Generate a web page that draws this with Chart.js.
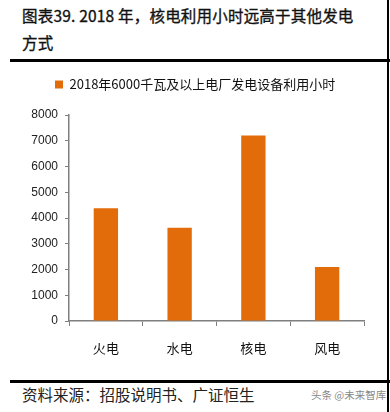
<!DOCTYPE html>
<html lang="zh">
<head>
    <meta charset="UTF-8">
    <title>2018年核电利用小时</title>
    <style>
        body {
            margin: 0;
            width: 390px;
            height: 412px;
            background: #fff;
            position: relative;
            overflow: hidden;
            font-family: "Noto Sans CJK SC", sans-serif;
        }
        .title {
            position: absolute;
            left: 22px;
            top: 2px;
            font-size: 15.5px;
            line-height: 27px;
            font-weight: normal;
            -webkit-text-stroke: 0.35px #111;
            letter-spacing: 0.2px;
            color: #111;
            white-space: nowrap;
        }
        .rule {
            position: absolute;
            left: 10px;
            width: 380px;
            height: 3px;
            background: #000;
        }
        .edge {
            position: absolute;
            left: 387px;
            top: 0;
            width: 2px;
            height: 412px;
            background: #000;
        }
        .source {
            position: absolute;
            left: 22px;
            top: 383px;
            font-size: 15.5px;
            color: #222;
            white-space: nowrap;
        }
        .mark {
            position: absolute;
            left: 311px;
            top: 387px;
            font-size: 10.5px;
            color: #888;
            white-space: nowrap;
        }
        #chart-box {
            position: absolute;
            left: 0;
            top: 53px;
            width: 380px;
            height: 317px;
        }
    </style>
    <script src="https://cdn.jsdelivr.net/npm/chart.js"></script>
</head>
<body>
    <div class="title">图表39. 2018 年，核电利用小时远高于其他发电<br>方式</div>
    <div class="rule" style="top:59px"></div>
    <div id="chart-box"><canvas id="hoursChart"></canvas></div>
    <div class="edge"></div>
    <div class="rule" style="top:380px"></div>
    <div class="source">资料来源：招股说明书、广证恒生</div>
    <div class="mark">头条 @未来智库</div>

    <script>
        // data
        const categories = ['火电', '水电', '核电', '风电'];
        const hours = [4380, 3625, 7200, 2100];
        const seriesName = '2018年6000千瓦及以上电厂发电设备利用小时';
        const yTicks = [0, 1000, 2000, 3000, 4000, 5000, 6000, 7000, 8000];

        const orange = '#E36C0A';
        const axisGray = '#7f7f7f';

        const ctx = document.getElementById('hoursChart').getContext('2d');
        new Chart(ctx, {
            type: 'bar',
            data: {
                labels: categories,
                datasets: [{
                    label: seriesName,
                    data: hours,
                    backgroundColor: orange,
                    borderWidth: 0,
                    categoryPercentage: 1,
                    barPercentage: 0.33
                }]
            },
            options: {
                responsive: true,
                maintainAspectRatio: false,
                animation: false,
                layout: { padding: { top: 0, right: 16, left: 30, bottom: 0 } },
                plugins: {
                    tooltip: { enabled: false },
                    // empty title box used as a spacer between legend and plot
                    title: {
                        display: true,
                        text: '',
                        weight: 500,
                        font: { size: 10, lineHeight: 1 },
                        padding: { top: 0, bottom: 4 }
                    },
                    legend: {
                        display: true,
                        position: 'top',
                        align: 'start',
                        labels: {
                            boxWidth: 8,
                            boxHeight: 8,
                            padding: 25,
                            color: '#111',
                            font: { family: '"Noto Sans CJK SC"', size: 13 }
                        }
                    }
                },
                scales: {
                    x: {
                        grid: {
                            display: true,
                            offset: true,
                            drawOnChartArea: false,
                            drawTicks: true,
                            tickLength: 5,
                            tickColor: axisGray
                        },
                        border: { display: true, color: axisGray, width: 1.5 },
                        ticks: {
                            color: '#111',
                            padding: 14,
                            font: { family: '"Noto Sans CJK SC"', size: 13 }
                        },
                        afterFit: s => { s.height = 49; }
                    },
                    y: {
                        min: 0,
                        max: 8000,
                        afterBuildTicks: s => { s.ticks = yTicks.map(v => ({ value: v })); },
                        grid: {
                            display: true,
                            drawOnChartArea: false,
                            drawTicks: true,
                            tickLength: 4,
                            tickColor: axisGray
                        },
                        border: { display: true, color: axisGray, width: 1.5 },
                        ticks: {
                            color: '#222',
                            padding: 7,
                            callback: v => String(v),
                            font: { family: '"Liberation Sans", Arial', size: 12 }
                        },
                        afterFit: s => { s.width = 39; }
                    }
                }
            }
        });
    </script>
</body>
</html>
